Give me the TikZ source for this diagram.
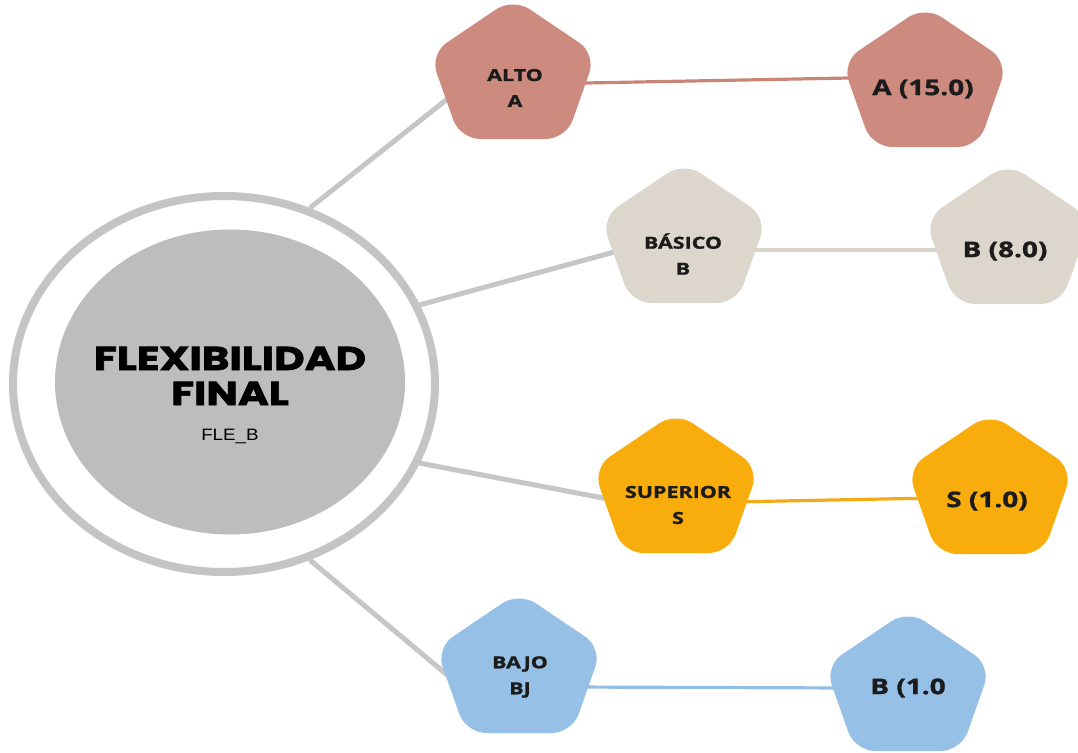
\documentclass[tikz,border=0pt]{standalone}
\usepackage{fontspec}
\usetikzlibrary{shapes.geometric}
\newfontfamily\labelfont{Open Sans}[FakeStretch=1.3, BoldFeatures={FakeBold=1.3}]
\newfontfamily\titlefont{Poppins}[FakeStretch=1.27, BoldFeatures={FakeBold=2.2}]
\newfontfamily\codefont{Liberation Sans}[FakeStretch=1.14]

\definecolor{ink}{HTML}{1B1B1B}
\definecolor{ring}{HTML}{C4C4C4}
\definecolor{core}{HTML}{BDBDBD}
\definecolor{spokegray}{HTML}{C6C6C6}
\definecolor{rose}{HTML}{CD8A7E}
\definecolor{roseline}{HTML}{C98478}
\definecolor{beige}{HTML}{DDD6CD}
\definecolor{beigeline}{HTML}{D9D3CC}
\definecolor{amber}{HTML}{F9AD0D}
\definecolor{amberline}{HTML}{F4AA14}
\definecolor{sky}{HTML}{96C0E6}
\definecolor{skyline}{HTML}{93BDE4}

\pgfdeclarelayer{background}
\pgfsetlayers{background,main}

\tikzset{
  spoke/.style={draw=spokegray, line width=5pt},
  link/.style={line width=3.2pt},
  small/.style={font=\labelfont\bfseries\fontsize{16.5}{26}\selectfont, text=ink, align=center, inner sep=0pt},
  big/.style={font=\labelfont\bfseries\fontsize{21.5}{24}\selectfont, text=ink, inner sep=0pt},
  titletext/.style={font=\titlefont\bfseries\fontsize{33}{35}\selectfont, text=black, inner sep=0pt, anchor=base},
}

% rounded pentagon centred on (#1,#2), filled with colour #3
\newcommand\pentagonat[3]{%
  \fill[#3, rounded corners=20pt, shift={(#1,#2)}]
    (0,-80) -- (83,-24) -- (53,61) -- (-53,61) -- (-83,-24) -- cycle;}

\begin{document}
\begin{tikzpicture}[x=1pt,y=-1pt]
\useasboundingbox (0,0) rectangle (1078,752);

% central hub
\node[ellipse, draw=ring, line width=8pt, fill=white, minimum width=422pt,
      minimum height=376pt, inner sep=0pt] (hub) at (224,384) {};
\node[ellipse, fill=core, minimum width=350pt, minimum height=305pt,
      inner sep=0pt] (core) at (230,382) {};
\node[titletext] (title1) at (230,370) {FLEXIBILIDAD};
\node[titletext] (title2) at (230,405) {FINAL};
\node[font=\codefont\fontsize{16.5}{18}\selectfont, inner sep=0pt, anchor=base] (code) at (230,440) {FLE\_B};

% category pentagons
\pentagonat{513}{78}{rose}
\node[small] (alto) at (515,88) {ALTO\\A};
\pentagonat{684}{242}{beige}
\node[small] (basico) at (683,254) {BÁSICO\\B};
\pentagonat{676}{492}{amber}
\node[small] (superior) at (678,505) {SUPERIOR\\S};
\pentagonat{519}{672}{sky}
\node[small] (bajo) at (520,677) {BAJO\\BJ};

% value pentagons
\pentagonat{925}{86}{rose}
\node[big] (a15) at (923,89) {A (15.0)};
\pentagonat{1008}{243}{beige}
\node[big] (b8) at (1005,251) {B (8.0)};
\pentagonat{990}{493}{amber}
\node[big] (s1) at (987,501) {S (1.0)};
\pentagonat{908}{690}{sky}
\node[big] (b1) at (908,688) {B (1.0};

% connector ends hidden under the pentagons
\coordinate (alto-in) at (470,81);
\coordinate (basico-in) at (640,245);
\coordinate (superior-in) at (640,505);
\coordinate (bajo-in) at (470,694);
\coordinate (alto-out) at (560,83.5);
\coordinate (a15-in) at (875,77.5);
\coordinate (basico-out) at (740,250);
\coordinate (b8-in) at (950,250);
\coordinate (superior-out) at (730,502);
\coordinate (s1-in) at (935,498);
\coordinate (bajo-out) at (570,687);
\coordinate (b1-in) at (850,688);

\begin{pgfonlayer}{background}
  \draw[spoke] (hub.64) -- (alto-in);
  \draw[spoke] (hub.22) -- (basico-in);
  \draw[spoke] (hub.-22) -- (superior-in);
  \draw[spoke] (hub.-64) -- (bajo-in);
  \draw[link, draw=roseline] (alto-out) -- (a15-in);
  \draw[link, draw=beigeline] (basico-out) -- (b8-in);
  \draw[link, draw=amberline] (superior-out) -- (s1-in);
  \draw[link, draw=skyline] (bajo-out) -- (b1-in);
\end{pgfonlayer}
\end{tikzpicture}
\end{document}
